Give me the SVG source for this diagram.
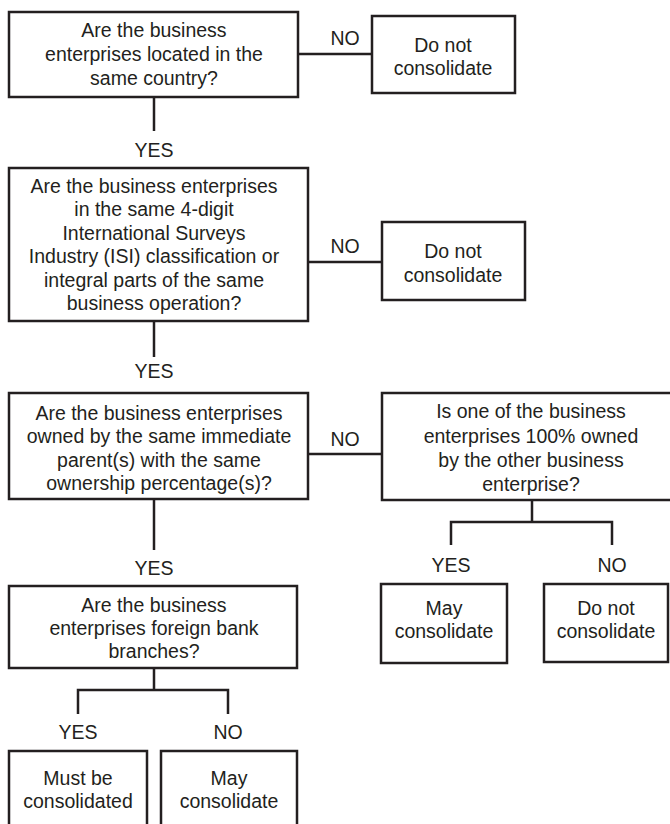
<svg xmlns="http://www.w3.org/2000/svg" width="670" height="824" viewBox="0 0 670 824">
<style>
rect{fill:#fff;stroke:#231f20;stroke-width:2.5}
.c path{fill:none;stroke:#231f20;stroke-width:2.5}
text{font-family:"Liberation Sans",Arial,sans-serif;font-size:19.5px;fill:#231f20;text-anchor:middle}
</style>
<rect x="0" y="0" width="670" height="824" style="stroke:none"/>
<g class="c" id="connectors">
<path d="M154 97V131"/>
<path d="M298 54H372"/>
<path d="M154 321V357"/>
<path d="M308 262H382"/>
<path d="M154 499V550"/>
<path d="M308 454H382"/>
<path d="M532 500V522M451 545V522H612V545"/>
<path d="M154 668V690M78 714V690H228V714"/>
<text x="345" y="45">NO</text>
<text x="154" y="157">YES</text>
<text x="345" y="253">NO</text>
<text x="154" y="378">YES</text>
<text x="345" y="446">NO</text>
<text x="154" y="575">YES</text>
<text x="451" y="572">YES</text>
<text x="612" y="572">NO</text>
<text x="78" y="739">YES</text>
<text x="228" y="739">NO</text>
</g>
<g id="q1"><rect x="9" y="12" width="289" height="85"/>
<text x="154" y="37">Are the business</text><text x="154" y="61">enterprises located in the</text><text x="154" y="85">same country?</text></g>
<g id="n1"><rect x="372" y="16" width="143" height="77"/>
<text x="443" y="52">Do not</text><text x="443" y="75">consolidate</text></g>
<g id="q2"><rect x="9" y="168" width="299" height="153"/>
<text x="154" y="193">Are the business enterprises</text><text x="154" y="216">in the same 4-digit</text><text x="154" y="240">International Surveys</text><text x="154" y="263">Industry (ISI) classification or</text><text x="154" y="287">integral parts of the same</text><text x="154" y="310">business operation?</text></g>
<g id="n2"><rect x="382" y="222" width="143" height="78"/>
<text x="453" y="258">Do not</text><text x="453" y="282">consolidate</text></g>
<g id="q3"><rect x="9" y="393" width="299" height="106"/>
<text x="159" y="420">Are the business enterprises</text><text x="159" y="443">owned by the same immediate</text><text x="159" y="467">parent(s) with the same</text><text x="159" y="490">ownership percentage(s)?</text></g>
<g id="q4"><rect x="382" y="393" width="300" height="107"/>
<text x="531" y="418">Is one of the business</text><text x="531" y="443">enterprises 100% owned</text><text x="531" y="467">by the other business</text><text x="531" y="491">enterprise?</text></g>
<g id="n3"><rect x="381" y="584" width="126" height="79"/>
<text x="444" y="615">May</text><text x="444" y="638">consolidate</text></g>
<g id="n4"><rect x="544" y="584" width="124" height="78"/>
<text x="606" y="615">Do not</text><text x="606" y="638">consolidate</text></g>
<g id="q5"><rect x="9" y="586" width="288" height="82"/>
<text x="154" y="612">Are the business</text><text x="154" y="635">enterprises foreign bank</text><text x="154" y="658">branches?</text></g>
<g id="n5"><rect x="9" y="751" width="138" height="90"/>
<text x="78" y="785">Must be</text><text x="78" y="808">consolidated</text></g>
<g id="n6"><rect x="161" y="751" width="136" height="90"/>
<text x="229" y="785">May</text><text x="229" y="808">consolidate</text></g>
</svg>
